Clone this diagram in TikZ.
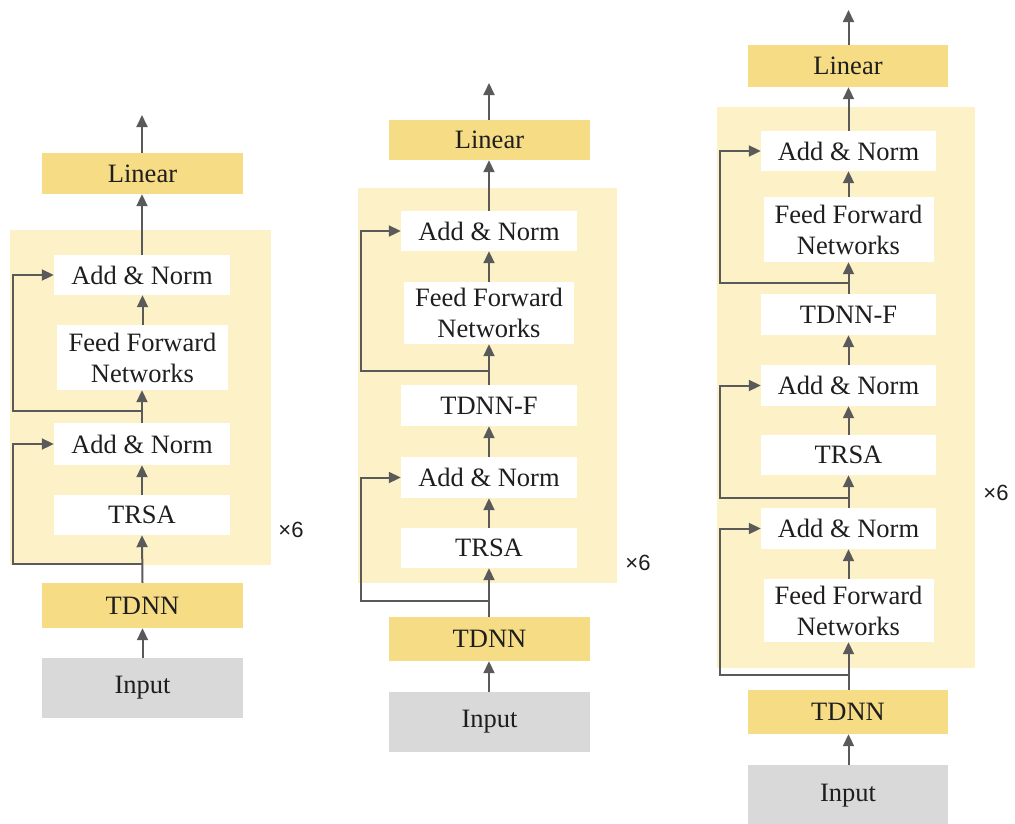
\documentclass[tikz,border=0pt]{standalone}
\usepackage{fontspec}
\setmainfont{Liberation Serif}
\newfontfamily\repfont{Liberation Sans}
\usetikzlibrary{arrows.meta}
\definecolor{cream}{HTML}{FDF1C7}
\definecolor{gold}{HTML}{F6DC84}
\definecolor{greybox}{HTML}{D9D9D9}
\definecolor{linegrey}{HTML}{5A5A5A}
\definecolor{ink}{HTML}{1E1E1E}
\tikzset{
  box/.style={inner sep=0pt, text=ink, font=\fontsize{26.5}{31}\selectfont, align=center},
  wbox/.style={box, fill=white},
  ybox/.style={box, fill=gold},
  gbox/.style={box, fill=greybox},
  flow/.style={draw=linegrey, line width=2pt, -{Triangle[length=12pt,width=11pt]}},
  rep/.style={text=ink, font=\repfont\fontsize{22}{26}\selectfont},
}
\begin{document}
\begin{tikzpicture}[x=1pt,y=-1pt]
\useasboundingbox (0,0) rectangle (1015,823);

% ---------- left column ----------
\fill[cream] (10,230) rectangle (271,565);
\node[ybox, minimum width=201pt, minimum height=41pt] (lin1) at (142.5,173.5) {Linear};
\node[wbox, minimum width=176pt, minimum height=40pt] (an1a) at (142,275) {Add \& Norm};
\node[wbox, minimum width=171pt, minimum height=65pt] (ff1) at (142.5,357.5) {Feed Forward\\Networks};
\node[wbox, minimum width=176pt, minimum height=42pt] (an1b) at (142,444) {Add \& Norm};
\node[wbox, minimum width=176pt, minimum height=40pt] (trsa1) at (142,515) {TRSA};
\node[ybox, minimum width=201pt, minimum height=45pt] (tdnn1) at (142.5,605.5) {TDNN};
\node[gbox, minimum width=201pt, minimum height=60pt] (in1) at (142.5,688) {Input};
\node[rep] (x1) at (291,530) {×6};
\coordinate (t1) at (142,115);
\coordinate (s1a) at (142,411);
\coordinate (s1b) at (142,564);

\draw[flow] (in1.north) -- (in1.north |- tdnn1.south);
\draw[flow] (tdnn1.north) -- (trsa1.south);
\draw[flow] (trsa1.north) -- (an1b.south);
\draw[flow] (an1b.north) -- (an1b.north |- ff1.south);
\draw[flow] (ff1.north) -- (ff1.north |- an1a.south);
\draw[flow] (an1a.north) -- (an1a.north |- lin1.south);
\draw[flow] (lin1.north -| an1a.north) -- (t1);
\draw[flow] (s1a) -- (13,411) |- (an1a.west);
\draw[flow] (s1b) -- (13,564) |- (an1b.west);

% ---------- middle column ----------
\fill[cream] (358,188) rectangle (617,583);
\node[ybox, minimum width=201pt, minimum height=40pt] (lin2) at (489.5,140) {Linear};
\node[wbox, minimum width=176pt, minimum height=40pt] (an2a) at (489,231) {Add \& Norm};
\node[wbox, minimum width=170pt, minimum height=62pt] (ff2) at (489,313) {Feed Forward\\Networks};
\node[wbox, minimum width=176pt, minimum height=41pt] (tf2) at (489,405.5) {TDNN-F};
\node[wbox, minimum width=176pt, minimum height=41pt] (an2b) at (489,477.5) {Add \& Norm};
\node[wbox, minimum width=176pt, minimum height=40pt] (trsa2) at (489,548) {TRSA};
\node[ybox, minimum width=201pt, minimum height=44pt] (tdnn2) at (489.5,639) {TDNN};
\node[gbox, minimum width=201pt, minimum height=60pt] (in2) at (489.5,722) {Input};
\node[rep] (x2) at (638,563) {×6};
\coordinate (t2) at (489,83);
\coordinate (s2a) at (489,371);
\coordinate (s2b) at (489,601);

\draw[flow] (in2.north -| trsa2.south) -- (tdnn2.south -| trsa2.south);
\draw[flow] (tdnn2.north -| trsa2.south) -- (trsa2.south);
\draw[flow] (trsa2.north) -- (an2b.south);
\draw[flow] (an2b.north) -- (tf2.south);
\draw[flow] (tf2.north) -- (ff2.south);
\draw[flow] (ff2.north) -- (an2a.south);
\draw[flow] (an2a.north) -- (an2a.north |- lin2.south);
\draw[flow] (lin2.north -| an2a.north) -- (t2);
\draw[flow] (s2a) -- (361,371) |- (an2a.west);
\draw[flow] (s2b) -- (361,601) |- (an2b.west);

% ---------- right column ----------
\fill[cream] (717,107) rectangle (975,668);
\node[ybox, minimum width=200pt, minimum height=42pt] (lin3) at (848,66) {Linear};
\node[wbox, minimum width=175pt, minimum height=40pt] (an3a) at (848.5,151) {Add \& Norm};
\node[wbox, minimum width=170pt, minimum height=65pt] (ff3a) at (848.5,229.5) {Feed Forward\\Networks};
\node[wbox, minimum width=175pt, minimum height=41pt] (tf3) at (848.5,314.5) {TDNN-F};
\node[wbox, minimum width=175pt, minimum height=41pt] (an3b) at (848.5,385.5) {Add \& Norm};
\node[wbox, minimum width=175pt, minimum height=40pt] (trsa3) at (848.5,455) {TRSA};
\node[wbox, minimum width=175pt, minimum height=41pt] (an3c) at (848.5,528.5) {Add \& Norm};
\node[wbox, minimum width=170pt, minimum height=63pt] (ff3b) at (848.5,610.5) {Feed Forward\\Networks};
\node[ybox, minimum width=200pt, minimum height=44pt] (tdnn3) at (848,712) {TDNN};
\node[gbox, minimum width=200pt, minimum height=62pt] (in3) at (848,796) {Input};
\node[rep] (x3) at (996,493) {×6};
\coordinate (t3) at (848.5,10);
\coordinate (s3a) at (848.5,283);
\coordinate (s3b) at (848.5,498);
\coordinate (s3c) at (848.5,675);

\draw[flow] (in3.north -| ff3b.south) -- (tdnn3.south -| ff3b.south);
\draw[flow] (tdnn3.north -| ff3b.south) -- (ff3b.south);
\draw[flow] (ff3b.north) -- (an3c.south);
\draw[flow] (an3c.north) -- (trsa3.south);
\draw[flow] (trsa3.north) -- (an3b.south);
\draw[flow] (an3b.north) -- (tf3.south);
\draw[flow] (tf3.north) -- (ff3a.south);
\draw[flow] (ff3a.north) -- (an3a.south);
\draw[flow] (an3a.north) -- (an3a.north |- lin3.south);
\draw[flow] (lin3.north -| an3a.north) -- (t3);
\draw[flow] (s3a) -- (720,283) |- (an3a.west);
\draw[flow] (s3b) -- (720,498) |- (an3b.west);
\draw[flow] (s3c) -- (720,675) |- (an3c.west);
\end{tikzpicture}
\end{document}
